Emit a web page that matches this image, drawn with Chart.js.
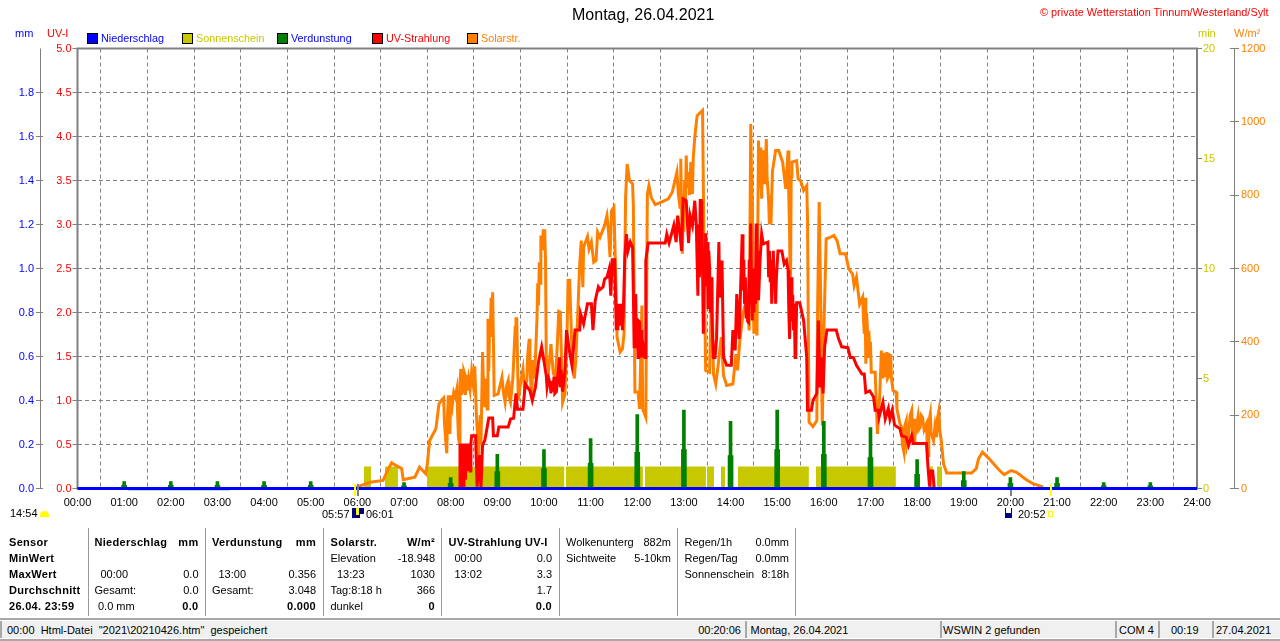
<!DOCTYPE html>
<html>
<head>
<meta charset="utf-8">
<title>Wetterstation Tinnum</title>
<script src="https://cdn.jsdelivr.net/npm/chart.js@4"></script>
<style>
html,body{margin:0;padding:0;background:#fff;}
#wrap{position:relative;width:1280px;height:641px;overflow:hidden;font:11px "Liberation Sans",Arial,sans-serif;color:#000;}
#wrap canvas{position:absolute;left:0;top:0;}
.t{position:absolute;white-space:pre;line-height:14px;height:14px;}
.r{transform:translateX(-100%);}
.b{font-weight:bold;letter-spacing:.3px;}
.box{position:absolute;width:9px;height:9px;border:1px solid #000;}
.sep{position:absolute;width:1px;top:528px;height:88px;background:#999;}
.bar{position:absolute;top:621px;height:17px;background:#f0f0f0;border-left:2px solid #a8a8a8;}
</style>
</head>
<body>
<div id="wrap">
<canvas id="grafik" width="1280" height="641"></canvas>
</div>
<script>
// minutes of the day, value
const solarStr=[[358,3],[361,5],[376,17],[393,22],[400,54],[404,70],[417,54],[419,24],[434,31],[440,58],[448,40],[450,67],[453,131],[461,163],[465,231],[468,240],[471,247],[472,180],[473,149],[474,120],[475,96],[476,200],[477,254],[478,170],[479,149],[480,254],[482,225],[484,262],[486,250],[488,272],[489,200],[490,140],[491,126],[492,280],[493,326],[494,255],[495,320],[496,263],[497,320],[498,313],[499,255],[500,310],[501,267],[503,300],[505,270],[507,320],[509,285],[511,333],[513,204],[516,90],[518,200],[519,120],[521,372],[522,300],[524,222],[525,300],[527,217],[528,463],[529,320],[530,430],[531,413],[532,520],[533,420],[534,535],[535,400],[536,254],[541,258],[546,303],[548,260],[550,235],[552,280],[554,294],[555,250],[557,235],[560,300],[563,440],[564,463],[565,463],[566,350],[567,240],[570,290],[573,326],[575,270],[578,294],[579,360],[581,408],[582,330],[584,249],[586,350],[588,300],[591,462],[592,560],[593,500],[594,617],[595,560],[596,690],[598,650],[599,703],[601,703],[602,622],[603,354],[606,322],[609,394],[612,313],[615,304],[617,385],[619,483],[621,481],[624,235],[627,258],[630,449],[631,567],[633,567],[636,380],[639,300],[641,350],[644,504],[646,612],[648,676],[650,549],[651,658],[656,687],[658,653],[661,672],[664,617],[667,622],[669,699],[672,685],[678,717],[681,744],[683,703],[685,631],[687,758],[690,767],[693,522],[694,413],[698,372],[701,381],[703,422],[705,794],[707,885],[710,840],[714,831],[715,767],[717,263],[721,263],[723,217],[726,499],[727,217],[731,194],[733,803],[735,826],[738,794],[743,774],[751,781],[760,790],[765,808],[771,863],[773,800],[775,767],[776,899],[777,760],[778,640],[779,760],[780,700],[781,840],[782,780],[783,908],[784,820],[786,863],[787,800],[789,890],[790,830],[791,803],[792,900],[794,958],[797,1017],[804,1031],[806,631],[808,322],[813,317],[816,576],[818,313],[821,285],[824,335],[828,413],[831,308],[835,281],[843,285],[847,367],[849,322],[852,404],[856,476],[861,522],[864,431],[866,994],[867,850],[868,785],[869,600],[870,422],[871,600],[872,480],[874,417],[875,700],[876,949],[877,820],[878,930],[879,872],[880,790],[881,900],[882,922],[884,830],[886,953],[887,850],[889,785],[890,720],[891,800],[892,722],[893,800],[894,867],[898,922],[902,922],[907,890],[911,817],[914,922],[915,790],[916,694],[917,500],[918,850],[919,890],[925,894],[927,844],[930,840],[934,813],[938,826],[939,740],[940,458],[941,181],[946,169],[951,185],[952,494],[954,781],[956,513],[958,172],[960,422],[963,681],[968,685],[973,690],[977,676],[981,640],[988,640],[992,599],[997,585],[999,553],[1002,576],[1006,503],[1010,522],[1011,460],[1012,422],[1013,520],[1014,340],[1015,480],[1016,440],[1017,360],[1018,430],[1019,358],[1020,400],[1021,317],[1026,317],[1029,149],[1032,258],[1034,376],[1036,300],[1037,370],[1039,304],[1040,360],[1041,372],[1042,300],[1043,304],[1044,365],[1046,363],[1047,300],[1049,267],[1053,263],[1054,217],[1058,176],[1060,167],[1061,120],[1063,99],[1064,170],[1066,185],[1067,120],[1069,140],[1071,200],[1073,213],[1074,160],[1076,131],[1077,190],[1079,167],[1081,194],[1082,160],[1084,167],[1085,200],[1087,194],[1089,160],[1092,176],[1093,120],[1094,90],[1095,180],[1097,204],[1098,150],[1101,131],[1103,170],[1105,140],[1106,190],[1108,213],[1109,160],[1111,131],[1114,67],[1118,42],[1150,42],[1156,54],[1159,81],[1164,99],[1171,85],[1186,49],[1192,38],[1201,49],[1208,44],[1219,26],[1229,13],[1242,4]];

const uvStrahlung=[[491,0],[492,.51],[493,0],[494,.51],[495,.02],[496,.51],[497,0],[498,.51],[499,.1],[500,.51],[501,.2],[502,.51],[503,.2],[504,.51],[505,.2],[506,.51],[507,.6],[512,.6],[514,.02],[517,.38],[519,0],[521,.49],[524,.55],[527,.7],[529,.8],[534,.8],[535,.6],[540,.6],[542,.7],[554,.7],[557,.79],[561,.8],[564,1.08],[566,.9],[573,.9],[576,1.19],[582,1.11],[585,1],[589,1.15],[593,1.44],[597,1.61],[600,1.45],[603,1.28],[604,1.15],[606,1.25],[608,1.19],[609,1.08],[610,1.22],[611,1.1],[613,1.27],[614,1.08],[616,1.1],[618,1.3],[620,1.49],[621,1.15],[622,1.35],[624,1.1],[627,1.34],[629,1.8],[633,1.55],[636,1.4],[640,1.8],[646,1.8],[647,1.99],[651,1.87],[656,2.1],[661,2.1],[663,1.8],[666,2.14],[670,2.29],[672,2.26],[676,2.29],[678,2.38],[681,2.4],[684,2.5],[686,2.19],[688,2.6],[691,2.6],[693,1.8],[694,2.1],[695,1.8],[696,2.1],[697,1.85],[698,2.1],[699,1.85],[700,2],[701,1.8],[702,1.98],[704,2.63],[706,2.89],[708,2.7],[711,2.8],[714,2.74],[715,2.23],[716,1.61],[717,2.1],[718,2.21],[719,1.7],[720,1.8],[721,1.49],[722,1.9],[723,1.89],[724,1.49],[725,1.8],[726,1.49],[728,1.6],[730,1.49],[731,2.59],[734,2.79],[756,2.79],[758,2.89],[761,2.79],[764,2.89],[767,2.99],[770,2.8],[772,3.1],[775,2.89],[777,2.7],[779,3.29],[783,3.27],[786,2.79],[788,3.1],[791,2.99],[794,3.27],[796,2.99],[798,2.19],[799,3],[800,2.4],[801,3.29],[802,2.6],[803,3.27],[804,2.5],[805,1.76],[806,2.4],[807,2.33],[808,2.9],[809,2.3],[810,2.8],[811,2.04],[812,2.7],[813,2.52],[814,2],[815,2.4],[816,1.98],[817,1.7],[818,1.49],[820,1.49],[822,1.7],[825,2.8],[826,2.17],[829,2.59],[831,1.49],[835,1.4],[841,1.4],[843,1.8],[846,1.57],[848,2.21],[851,1.7],[855,2.89],[856,2.25],[857,2.6],[858,2.1],[859,2.4],[860,1.95],[861,2.2],[862,1.9],[863,1.89],[864,2.6],[865,2.2],[866,3.01],[867,2.2],[868,1.91],[869,2.5],[870,2],[871,2.44],[872,2.1],[873,3.01],[874,2.4],[875,2.7],[876,2.14],[878,2.6],[880,2.89],[882,2.78],[888,2.8],[889,2.4],[890,2.7],[891,2.36],[892,2.6],[893,2.1],[894,2.4],[895,2.7],[896,2.3],[897,2.5],[898,2.1],[899,2.4],[901,2.7],[906,2.7],[909,2.55],[912,2.59],[914,2.48],[915,2],[916,1.7],[917,2.3],[918,2.4],[919,1.9],[920,2.2],[921,1.8],[922,2.1],[923,1.49],[924,1.6],[925,2.11],[929,2.11],[934,1.91],[938,1.49],[939,.89],[944,.89],[946,1],[951,1.08],[953,1.91],[955,1.15],[957,1.49],[959,1.08],[961,1.61],[964,1.8],[976,1.8],[979,1.7],[983,1.61],[991,1.6],[994,1.49],[998,1.49],[1002,1.4],[1009,1.3],[1012,1.3],[1014,1.09],[1019,1.11],[1024,1.04],[1026,.89],[1030,.89],[1031,.81],[1036,.98],[1039,.79],[1043,.91],[1045,.79],[1048,.89],[1051,.72],[1058,.68],[1060,.6],[1066,.58],[1069,.49],[1073,.6],[1075,.51],[1092,.51],[1094,.24],[1096,.02],[1097,.2],[1100,.2],[1102,0]];

// sunshine periods [from,to] in minutes, each counts 1 min on the min axis
const sonnenschein=[[368.5,377.5],[395.5,412.2],[449.5,626.4],[628.3,727.3],[729.9,808.4],[809.6,818.7],[827.7,832.9],[849.5,940.8],[949.8,1052.7],[1096.5,1100.3],[1105.5,1112]];

// hourly evaporation, mm: the peak and the broader foot under it
const verdStunden=[1,2,3,4,5,7,8,9,10,11,12,13,14,15,16,17,18,19,20,21,22,23];
const verdSpitze=[.032,.032,.032,.032,.032,.027,.05,.155,.177,.227,.336,.356,.305,.356,.305,.277,.132,.077,.05,.05,.027,.027];
const verdFuss=[.014,.014,.014,.014,.014,.012,.023,.077,.091,.114,.164,.177,.15,.177,.155,.141,.064,.036,.023,.023,.012,.012];
const verdBasis=[[65,-.005],[196,-.005]];

const niederschlag=[[0,0],[1440,0]];

const uvTicks=[0,.5,1,1.5,2,2.5,3,3.5,4,4.5,5];
const mmTicks=[0,.2,.4,.6,.8,1,1.2,1.4,1.6,1.8];
const minTicks=[0,5,10,15,20];
const wattTicks=[0,200,400,600,800,1000,1200];

const GRAU="#808080";
const pts=a=>a.map(p=>({x:p[0],y:p[1]}));

let sonne=[];
sonnenschein.forEach(s=>{
sonne.push({x:s[0],y:1},{x:s[1],y:1},{x:s[1],y:null});
});

const hourBars=(vals)=>verdStunden.map((h,i)=>({x:h*60,y:vals[i]}));

function festeTicks(liste){
return function(axis){
axis.ticks=liste.map(v=>({value:v}));
};
}

const rahmen={
id:"rahmen",
beforeDatasetsDraw(chart){
const c=chart.ctx,a=chart.chartArea;
c.save();
c.strokeStyle=GRAU;
c.lineWidth=2;
c.strokeRect(a.left,a.top,a.right-a.left,a.bottom-a.top);
c.lineWidth=1;
let xm=chart.scales.mm.right-2.5;
c.beginPath();c.moveTo(xm,a.top);c.lineTo(xm,a.bottom);c.stroke();
let xw=chart.scales.watt.left+4.5;
c.beginPath();c.moveTo(xw,a.top);c.lineTo(xw,a.bottom);c.stroke();
c.restore();
}
};

const fontAchse={family:"Liberation Sans",size:11};

new Chart(document.getElementById("grafik"),{
type:"line",
data:{
datasets:[
{label:"Niederschlag",data:pts(niederschlag),yAxisID:"mm",borderColor:"#0000ff",borderWidth:3,pointRadius:0,clip:false,order:0},
{label:"Verdunstung",data:pts(verdBasis),yAxisID:"mm",borderColor:"#008000",borderWidth:1.5,pointRadius:0,clip:false,order:1},
{type:"bar",label:"Verdunstung Spitze",data:hourBars(verdSpitze),yAxisID:"mm",backgroundColor:"#008000",barThickness:3,grouped:false,order:2},
{type:"bar",label:"Verdunstung Fuss",data:hourBars(verdFuss),yAxisID:"mm",backgroundColor:"#008000",barThickness:5,grouped:false,order:2},
{label:"UV-Strahlung",data:pts(uvStrahlung),yAxisID:"uv",borderColor:"#ff0000",borderWidth:3,pointRadius:0,tension:0,order:3},
{label:"Solarstr.",data:pts(solarStr),yAxisID:"watt",borderColor:"#ff8000",borderWidth:3,pointRadius:0,tension:0,order:4},
{label:"Sonnenschein",data:sonne,yAxisID:"minuten",borderWidth:0,borderColor:"#c8c800",backgroundColor:"#c8c800",fill:"origin",pointRadius:0,spanGaps:false,order:5}
]
},
options:{
responsive:false,
animation:false,
events:[],
layout:{padding:{top:48.5,left:0,right:0,bottom:0}},
plugins:{legend:{display:false},tooltip:{enabled:false}},
scales:{
x:{
type:"linear",min:0,max:1440,offset:false,
afterBuildTicks(axis){
let t=[];
for(let h=0;h<=24;h++)t.push({value:h*60});
axis.ticks=t;
},
afterFit(s){s.height=152.5;},
grid:{color:GRAU,lineWidth:1,drawTicks:false},
border:{display:false,dash:[4,3]},
ticks:{color:"#000",font:fontAchse,padding:8,maxRotation:0,autoSkip:false,
callback:v=>String(v/60).padStart(2,"0")+":00"}
},
uv:{
position:"left",weight:0,min:0,max:5,
afterBuildTicks:festeTicks(uvTicks),
afterFit(s){s.width=34.5;},
grid:{color:GRAU,lineWidth:1,tickColor:GRAU,tickLength:5,tickBorderDash:[]},
border:{display:false,dash:[4,3]},
ticks:{color:"#ff0000",font:fontAchse,padding:1,autoSkip:false,callback:v=>v.toFixed(1)}
},
mm:{
position:"left",weight:1,min:0,max:2,
afterBuildTicks:festeTicks(mmTicks),
afterFit(s){s.width=43;},
grid:{drawOnChartArea:false,tickColor:GRAU,tickLength:7},
border:{display:false},
ticks:{color:"#0000ff",font:fontAchse,padding:2,autoSkip:false,callback:v=>v.toFixed(1)}
},
minuten:{
position:"right",weight:0,min:0,max:20,
afterBuildTicks:festeTicks(minTicks),
afterFit(s){s.width=33;},
grid:{drawOnChartArea:false,tickColor:GRAU,tickLength:5},
border:{display:false},
ticks:{color:"#c8c800",font:fontAchse,padding:1,autoSkip:false,callback:v=>String(v)}
},
watt:{
position:"right",weight:1,min:0,max:1200,
afterBuildTicks:festeTicks(wattTicks),
afterFit(s){s.width=50;},
grid:{drawOnChartArea:false,tickColor:GRAU,tickLength:9},
border:{display:false},
ticks:{color:"#ff8000",font:fontAchse,padding:2,autoSkip:false,callback:v=>String(v)}
}
}
},
plugins:[rahmen]
});

const wrap=document.getElementById("wrap");

function txt(x,y,s,cls,farbe,groesse){
let d=document.createElement("div");
d.className="t "+(cls||"");
d.style.left=x+"px";
d.style.top=(y-7)+"px";
d.textContent=s;
if(farbe)d.style.color=farbe;
if(groesse)d.style.fontSize=groesse+"px";
wrap.appendChild(d);
}
function block(x,y,w,h,farbe,extra){
let d=document.createElement("div");
d.style.cssText="position:absolute;left:"+x+"px;top:"+y+"px;width:"+w+"px;height:"+h+"px;background:"+farbe+";"+(extra||"");
wrap.appendChild(d);
}

// titles
txt(572,15,"Montag, 26.04.2021","","#000",16);
txt(1040,12,"© private Wetterstation Tinnum/Westerland/Sylt","","#ff0000",10.9);
txt(15,33,"mm","","#0000ff");
txt(47,33,"UV-I","","#ff0000");
txt(1198,33,"min","","#c8c800");
txt(1234,33,"W/m²","","#ff8000");

// legend
const legende=[
[87,"#0000ff","Niederschlag","#0000ff"],
[182,"#c8c800","Sonnenschein","#c8c800"],
[277,"#008000","Verdunstung","#0000ff"],
[372,"#ff0000","UV-Strahlung","#ff0000"],
[467,"#ff8000","Solarstr.","#ff8000"]
];
legende.forEach(l=>{
let b=document.createElement("div");
b.className="box";
b.style.left=l[0]+"px";
b.style.top="33px";
b.style.background=l[1];
wrap.appendChild(b);
txt(l[0]+14,38,l[2],"",l[3],10.8);
});

// sunrise / sunset marks under the axis
block(354,484,2,12,"#ffff00");
block(357,484,2,12,GRAU);
block(1010,490,2,6,GRAU);
block(1050,484,2,12,"#ffff00");
txt(10,513,"14:54");
block(40,511,9,6,"#ffff00","border-radius:5px 5px 0 0;");
txt(322,514,"05:57");
block(352,508,12,10,"#000080");
block(360,514,4,4,"#ffffff");
block(356,508,3,7,"#ffff00");
txt(366,514,"06:01");
block(1005,508,7,10,"#000080");
block(1006,508,5,5,"#ffffff");
txt(1018,514,"20:52");
block(1048,511,3,4,"#ffffff","border:1px solid #ffff00;");

// table under the chart
[88,205,323,441,559,677,795].forEach(x=>{
let d=document.createElement("div");
d.className="sep";
d.style.left=x+"px";
wrap.appendChild(d);
});
const zeile=[542,558,574,590,606];

txt(9,zeile[0],"Sensor","b");
txt(9,zeile[1],"MinWert","b");
txt(9,zeile[2],"MaxWert","b");
txt(9,zeile[3],"Durchschnitt","b");
txt(9,zeile[4],"26.04. 23:59","b");

txt(94.5,zeile[0],"Niederschlag","b");
txt(198.5,zeile[0],"mm","b r");
txt(100.5,zeile[2],"00:00");
txt(198.5,zeile[2],"0.0","r");
txt(94.5,zeile[3],"Gesamt:");
txt(198.5,zeile[3],"0.0","r");
txt(98,zeile[4],"0.0 mm");
txt(198.5,zeile[4],"0.0","b r");

txt(212,zeile[0],"Verdunstung","b");
txt(316,zeile[0],"mm","b r");
txt(218.5,zeile[2],"13:00");
txt(316,zeile[2],"0.356","r");
txt(212,zeile[3],"Gesamt:");
txt(316,zeile[3],"3.048","r");
txt(316,zeile[4],"0.000","b r");

txt(330.5,zeile[0],"Solarstr.","b");
txt(435,zeile[0],"W/m²","b r");
txt(330.5,zeile[1],"Elevation");
txt(435,zeile[1],"-18.948","r");
txt(337,zeile[2],"13:23");
txt(435,zeile[2],"1030","r");
txt(330.5,zeile[3],"Tag:8:18 h");
txt(435,zeile[3],"366","r");
txt(330.5,zeile[4],"dunkel");
txt(435,zeile[4],"0","b r");

txt(448.5,zeile[0],"UV-Strahlung UV-I","b");
txt(454.5,zeile[1],"00:00");
txt(552,zeile[1],"0.0","r");
txt(454.5,zeile[2],"13:02");
txt(552,zeile[2],"3.3","r");
txt(552,zeile[3],"1.7","r");
txt(552,zeile[4],"0.0","b r");

txt(566,zeile[0],"Wolkenunterg");
txt(671,zeile[0],"882m","r");
txt(566,zeile[1],"Sichtweite");
txt(671,zeile[1],"5-10km","r");

txt(684.5,zeile[0],"Regen/1h");
txt(789,zeile[0],"0.0mm","r");
txt(684.5,zeile[1],"Regen/Tag");
txt(789,zeile[1],"0.0mm","r");
txt(684.5,zeile[2],"Sonnenschein");
txt(789,zeile[2],"8:18h","r");

// status bar
block(0,618,1280,2,"#a8a8a8");
block(0,639,1280,2,"#a8a8a8");
[[0,745],[745,195],[940,175],[1115,43],[1158,54],[1212,68]].forEach(f=>{
let d=document.createElement("div");
d.className="bar";
d.style.left=f[0]+"px";
d.style.width=(f[1]-2)+"px";
wrap.appendChild(d);
});
txt(7,630,"00:00  Html-Datei  \"2021\\20210426.htm\"  gespeichert");
txt(741,630,"00:20:06","r");
txt(750.5,630,"Montag, 26.04.2021");
txt(943,630,"WSWIN 2 gefunden");
txt(1119,630,"COM 4");
txt(1171,630,"00:19");
txt(1216,630,"27.04.2021");
</script>
</body>
</html>
